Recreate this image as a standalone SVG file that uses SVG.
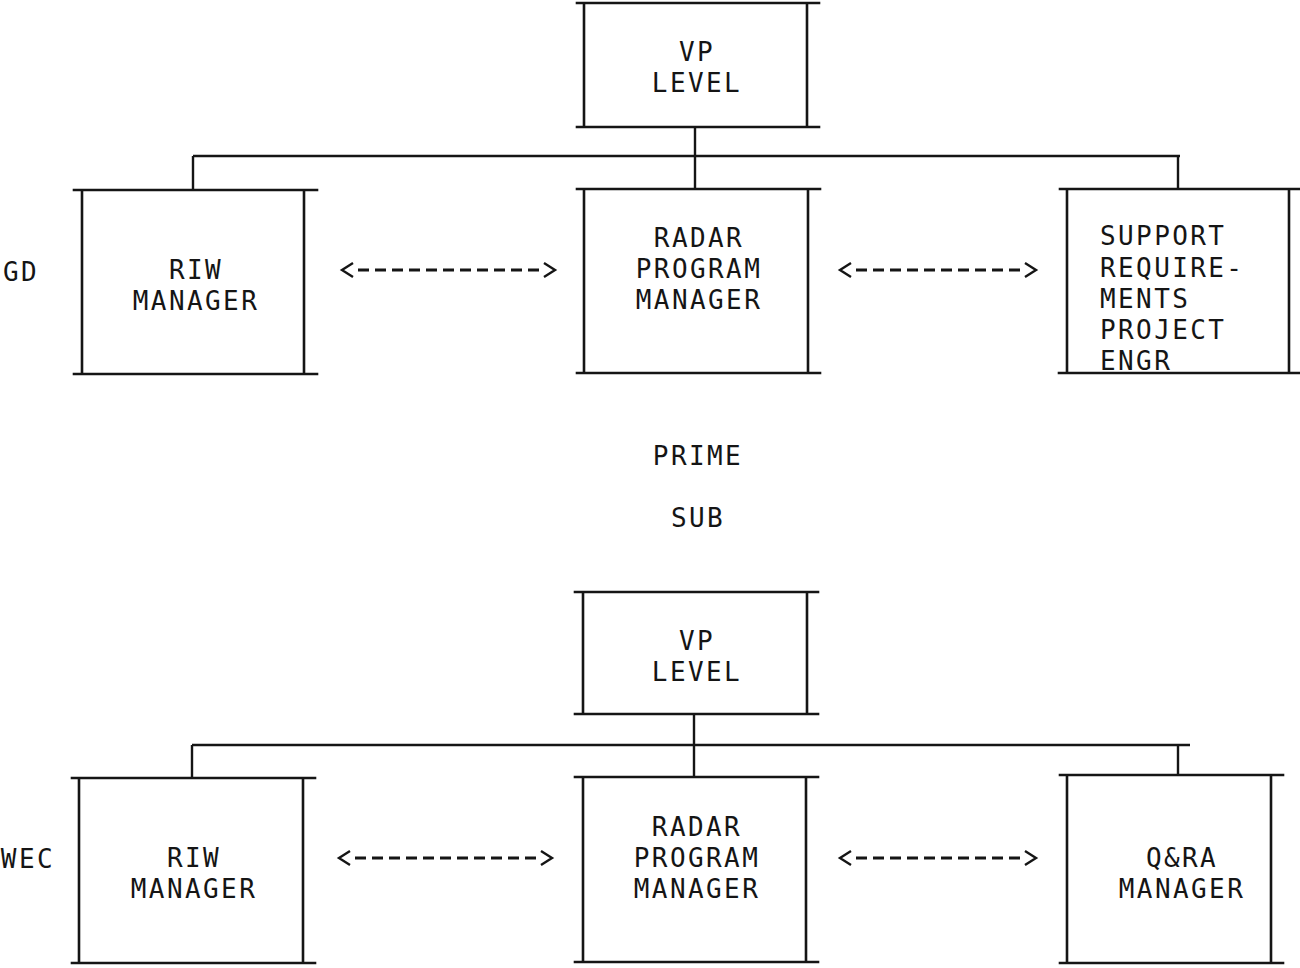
<svg xmlns="http://www.w3.org/2000/svg" width="1300" height="968" viewBox="0 0 1300 968">
<style>
.box{fill:none;stroke:#151515;stroke-width:2.6;stroke-linecap:square}
.wire{fill:none;stroke:#151515;stroke-width:2.4}
.dash{fill:none;stroke:#151515;stroke-width:3.2;stroke-dasharray:11 6}
.t{font-family:"DejaVu Sans Mono","Liberation Mono",monospace;font-size:26px;letter-spacing:2.4px;fill:#151515}
.c{text-anchor:middle}
</style>
<defs>
<marker id="chev" viewBox="0 0 12 16" refX="-5" refY="8" markerWidth="12" markerHeight="16" markerUnits="userSpaceOnUse" orient="auto-start-reverse" style="overflow:visible">
<path d="M0,1 L11,8 L0,15" fill="none" stroke="#151515" stroke-width="2.4"/>
</marker>
</defs>
<rect width="1300" height="968" fill="#ffffff"/>

<g id="connectors">
<path class="wire" d="M193,156 H1180 M193,156 V190 M695,127 V189 M1178,156 V189"/>
<path class="wire" d="M192,745 H1190 M192,745 V778 M694,714 V777 M1178,745 V775"/>
<path class="dash" d="M358,270 H539" marker-start="url(#chev)" marker-end="url(#chev)"/>
<path class="dash" d="M856,270 H1020" marker-start="url(#chev)" marker-end="url(#chev)"/>
<path class="dash" d="M355,858 H536" marker-start="url(#chev)" marker-end="url(#chev)"/>
<path class="dash" d="M856,858 H1020" marker-start="url(#chev)" marker-end="url(#chev)"/>
</g>

<g id="vp-prime">
<path class="box" d="M577,3 H819 M577,127 H819 M584,3 V127 M807,3 V127"/>
<text class="t c" x="697" y="61">VP</text>
<text class="t c" x="697" y="92">LEVEL</text>
</g>

<g id="riw-gd">
<path class="box" d="M74,190 H317 M74,374 H317 M82,190 V374 M304,190 V374"/>
<text class="t c" x="196" y="279">RIW</text>
<text class="t c" x="196" y="310">MANAGER</text>
</g>

<g id="radar-gd">
<path class="box" d="M577,189 H820 M577,373 H820 M584,189 V373 M808,189 V373"/>
<text class="t c" x="699" y="247">RADAR</text>
<text class="t c" x="699" y="278">PROGRAM</text>
<text class="t c" x="699" y="309">MANAGER</text>
</g>

<g id="support-gd">
<path class="box" d="M1060,189 H1300 M1059,373 H1300 M1067,189 V373 M1289,189 V373"/>
<text class="t" x="1100" y="245">SUPPORT</text>
<text class="t" x="1100" y="277">REQUIRE-</text>
<text class="t" x="1100" y="308">MENTS</text>
<text class="t" x="1100" y="339">PROJECT</text>
<text class="t" x="1100" y="370">ENGR</text>
</g>

<g id="vp-sub">
<path class="box" d="M575,592 H818 M575,714 H818 M583,592 V714 M807,592 V714"/>
<text class="t c" x="697" y="650">VP</text>
<text class="t c" x="697" y="681">LEVEL</text>
</g>

<g id="riw-wec">
<path class="box" d="M72,778 H315 M72,963 H315 M79,778 V963 M303,778 V963"/>
<text class="t c" x="194" y="867">RIW</text>
<text class="t c" x="194" y="898">MANAGER</text>
</g>

<g id="radar-wec">
<path class="box" d="M575,777 H818 M575,962 H818 M583,777 V962 M806,777 V962"/>
<text class="t c" x="697" y="836">RADAR</text>
<text class="t c" x="697" y="867">PROGRAM</text>
<text class="t c" x="697" y="898">MANAGER</text>
</g>

<g id="qra-wec">
<path class="box" d="M1060,775 H1283 M1060,963 H1283 M1067,775 V963 M1271,775 V963"/>
<text class="t c" x="1182" y="867">Q&amp;RA</text>
<text class="t c" x="1182" y="898">MANAGER</text>
</g>

<g id="labels">
<text class="t" x="3" y="281">GD</text>
<text class="t" x="55" y="868" text-anchor="end">WEC</text>
<text class="t c" x="698" y="465">PRIME</text>
<text class="t c" x="698" y="527">SUB</text>
</g>
</svg>
